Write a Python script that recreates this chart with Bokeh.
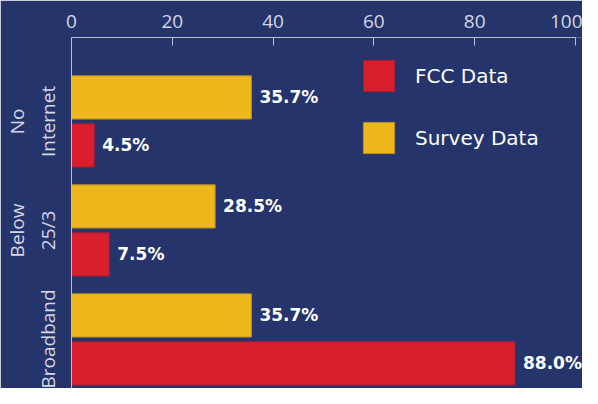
from bokeh.plotting import figure
from bokeh.models import (Range1d, FixedTicker, ColumnDataSource, Legend,
                          LegendItem, LabelSet)
from bokeh.core.properties import value
from bokeh.embed import file_html
from bokeh.resources import INLINE

# ---- data ----
categories = ["No\nInternet", "Below\n25/3", "Broadband"]
fcc_values = [4.5, 7.5, 88.0]
survey_values = [35.7, 28.5, 35.7]
x_ticks = [0, 20, 40, 60, 80, 100]

# ---- styling ----
NAVY = "#25346b"
YELLOW = "#eeb71c"
RED = "#d91f2e"
AXIS = "#b9bdcf"
TICK_TXT = "#d4d7e4"

GROUP_GAP = 0.27                 # gap between groups, in bar slots
slot = 1.0 / (2 + GROUP_GAP)     # one bar slot in group units
bar_h = 0.9 * slot

idx = list(range(len(categories)))
survey_y = [-i + slot / 2 for i in idx]
fcc_y = [-i - slot / 2 for i in idx]

src_s = ColumnDataSource(dict(x=survey_values, y=survey_y,
                              label=[f"{v:.1f}%" for v in survey_values]))
src_f = ColumnDataSource(dict(x=fcc_values, y=fcc_y,
                              label=[f"{v:.1f}%" for v in fcc_values]))

p = figure(width=582, height=388, output_backend="svg", toolbar_location=None,
           x_range=Range1d(0, 101.4), y_range=Range1d(-2.45, 0.77),
           x_axis_location="above",
           background_fill_color=NAVY, border_fill_color=NAVY,
           min_border_left=71, min_border_top=37, min_border_right=0,
           min_border_bottom=0, outline_line_color=None)
p.grid.visible = False

r_s = p.hbar(y="y", right="x", left=0, height=bar_h, source=src_s,
             fill_color=YELLOW, line_color="#b58f2c", line_width=1)
r_f = p.hbar(y="y", right="x", left=0, height=bar_h, source=src_f,
             fill_color=RED, line_color="#a81d33", line_width=1)

for src in (src_s, src_f):
    p.add_layout(LabelSet(x="x", y="y", text="label", source=src, x_offset=8,
                          text_align="left", text_baseline="middle",
                          text_font=value("DejaVu Sans"),
                          text_font_style="bold",
                          text_font_size="17px", text_color="white"))

# top axis
xa = p.xaxis[0]
xa.ticker = FixedTicker(ticks=x_ticks)
xa.bounds = (0, 100)
xa.major_tick_in = 8
xa.major_tick_out = 0
xa.minor_tick_line_color = None
xa.axis_line_color = AXIS
xa.major_tick_line_color = AXIS
xa.major_label_text_color = TICK_TXT
xa.major_label_text_font = "Open Sans"
xa.major_label_text_font_size = "19px"
xa.major_label_standoff = 10

# left axis
ya = p.yaxis[0]
ya.ticker = FixedTicker(ticks=[-i for i in idx])
ya.major_label_overrides = {-i: categories[i] for i in idx}
ya.major_label_orientation = "vertical"
ya.major_tick_line_color = None
ya.minor_tick_line_color = None
ya.axis_line_color = AXIS
ya.major_label_text_color = TICK_TXT
ya.major_label_text_font = "Open Sans"
ya.major_label_text_font_size = "19px"
ya.major_label_standoff = 4

legend = Legend(items=[LegendItem(label="FCC Data", renderers=[r_f]),
                       LegendItem(label="Survey Data", renderers=[r_s])],
                location=(288, 231), glyph_width=39, glyph_height=39,
                spacing=23, label_standoff=17, padding=0, margin=0,
                border_line_color=None, background_fill_alpha=0,
                label_text_color="white", label_text_font="DejaVu Sans",
                label_text_font_size="20px")
p.add_layout(legend)

open("out.html", "w").write(file_html(p, INLINE))
